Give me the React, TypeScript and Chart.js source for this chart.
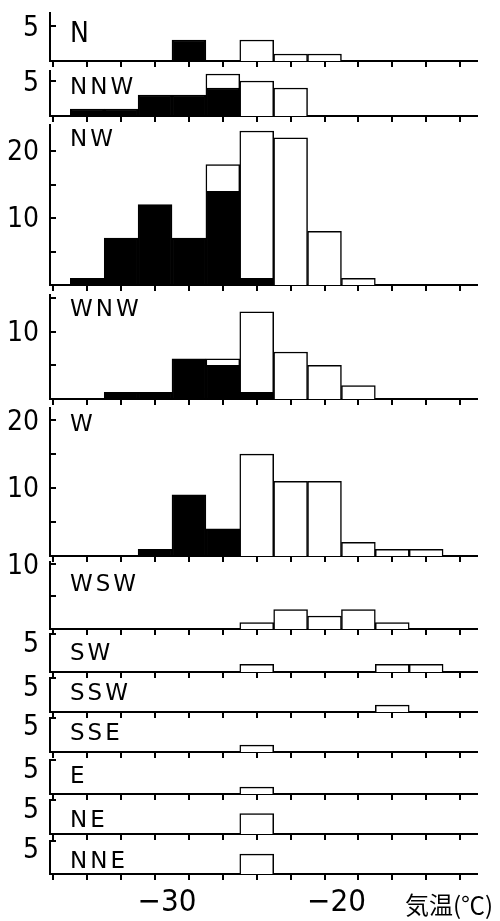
import React, { useEffect, useRef } from 'react';
import { Chart, registerables } from 'chart.js';

Chart.register(...registerables);

// ---------- data ----------
const directions = ['N', 'NNW', 'NW', 'WNW', 'W', 'WSW', 'SW', 'SSW', 'SSE', 'E', 'NE', 'NNE'];
// temperature bins (°C), 2-degree classes, centres
const binCenters = [-35, -33, -31, -29, -27, -25, -23, -21, -19, -17, -15];
const xTickValues = [-36, -34, -32, -30, -28, -26, -24, -22, -20, -18, -16, -14];
const xTickLabels: Record<string, string> = { '-30': '−30', '-20': '−20' };
const xAxisTitle = '気温(℃)';

// black (filled) and white (open) counts per bin
const blackN = [0, 0, 0, 3, 0, 0, 0, 0, 0, 0, 0];
const whiteN = [0, 0, 0, 0, 0, 3, 1, 1, 0, 0, 0];
const blackNNW = [1, 1, 3, 3, 4, 0, 0, 0, 0, 0, 0];
const whiteNNW = [0, 0, 0, 0, 2, 5, 4, 0, 0, 0, 0];
const blackNW = [1, 7, 12, 7, 14, 1, 0, 0, 0, 0, 0];
const whiteNW = [0, 0, 0, 0, 4, 22, 22, 8, 1, 0, 0];
const blackWNW = [0, 1, 1, 6, 5, 1, 0, 0, 0, 0, 0];
const whiteWNW = [0, 0, 0, 0, 1, 12, 7, 5, 2, 0, 0];
const blackW = [0, 0, 1, 9, 4, 0, 0, 0, 0, 0, 0];
const whiteW = [0, 0, 0, 0, 0, 15, 11, 11, 2, 1, 1];
const blackWSW = [0, 0, 0, 0, 0, 0, 0, 0, 0, 0, 0];
const whiteWSW = [0, 0, 0, 0, 0, 1, 3, 2, 3, 1, 0];
const blackSW = [0, 0, 0, 0, 0, 0, 0, 0, 0, 0, 0];
const whiteSW = [0, 0, 0, 0, 0, 1, 0, 0, 0, 1, 1];
const blackSSW = [0, 0, 0, 0, 0, 0, 0, 0, 0, 0, 0];
const whiteSSW = [0, 0, 0, 0, 0, 0, 0, 0, 0, 1, 0];
const blackSSE = [0, 0, 0, 0, 0, 0, 0, 0, 0, 0, 0];
const whiteSSE = [0, 0, 0, 0, 0, 1, 0, 0, 0, 0, 0];
const blackE = [0, 0, 0, 0, 0, 0, 0, 0, 0, 0, 0];
const whiteE = [0, 0, 0, 0, 0, 1, 0, 0, 0, 0, 0];
const blackNE = [0, 0, 0, 0, 0, 0, 0, 0, 0, 0, 0];
const whiteNE = [0, 0, 0, 0, 0, 3, 0, 0, 0, 0, 0];
const blackNNE = [0, 0, 0, 0, 0, 0, 0, 0, 0, 0, 0];
const whiteNNE = [0, 0, 0, 0, 0, 3, 0, 0, 0, 0, 0];

const blackSeries = [blackN, blackNNW, blackNW, blackWNW, blackW, blackWSW, blackSW, blackSSW, blackSSE, blackE, blackNE, blackNNE];
const whiteSeries = [whiteN, whiteNNW, whiteNW, whiteWNW, whiteW, whiteWSW, whiteSW, whiteSSW, whiteSSE, whiteE, whiteNE, whiteNNE];

// y-axis ticks and labelled ticks per panel
const yTickSets = [[5], [5], [5, 10, 15, 20], [5, 10, 15], [5, 10, 15, 20], [5, 10], [5], [5], [5], [5], [5], [5]];
const yLabelSets = [[5], [5], [10, 20], [10], [10, 20], [10], [5], [5], [5], [5], [5], [5]];
const yMaxes = [6.86, 6.43, 23.9, 15.5, 21.8, 10.3, 5, 5, 5, 5, 5, 5];

// ---------- layout (pixels) ----------
const panelTop = [13, 71, 125, 295, 408, 562, 634, 678, 718, 760, 800, 841];
const panelBase = [61, 116, 285, 399, 556, 629, 672, 712, 752, 794, 834, 874];
const yLabelOffset = [3, 3, 2, 2, 2, 3, 11, 11, 10, 11, 11, 10];
const nameDy = [22, 17, 15, 15, 17, 23, 20, 16, 16, 17, 21, 21];
const PAD_TOP = 30;
const NARROW = "'Liberation Sans Narrow', 'DejaVu Sans Condensed', 'Liberation Sans', sans-serif";

const decorPlugin = {
  id: 'decor',
  afterDraw(chart: any, _args: any, opts: any) {
    const { ctx, chartArea, scales } = chart;
    ctx.save();
    ctx.strokeStyle = '#000';
    ctx.lineWidth = 2;
    scales.y.ticks.forEach((t: any) => {
      const py = Math.round(scales.y.getPixelForValue(t.value));
      ctx.beginPath();
      ctx.moveTo(chartArea.left, py);
      ctx.lineTo(chartArea.left + 6, py);
      ctx.stroke();
    });
    ctx.fillStyle = '#000';
    ctx.textBaseline = 'middle';
    ctx.textAlign = 'left';
    ctx.font = opts.big ? `28px ${NARROW}` : "23px 'DejaVu Sans', sans-serif";
    try { (ctx as any).letterSpacing = '3px'; } catch (e) {}
    ctx.fillText(opts.label, chartArea.left + 20, chartArea.top + opts.dy);
    if (opts.xTitle) {
      try { (ctx as any).letterSpacing = '0px'; } catch (e) {}
      ctx.font = "24px 'Noto Sans CJK JP', sans-serif";
      ctx.fillText(opts.xTitle, 405, opts.xTitleY);
    }
    ctx.restore();
  },
};

function Panel({ index }: { index: number }) {
  const ref = useRef<HTMLCanvasElement | null>(null);
  const isBottom = index === directions.length - 1;
  const top = panelTop[index];
  const base = panelBase[index];
  const xh = isBottom ? 921 - base : 8;
  const height = PAD_TOP + (base - top) + xh;
  const canvasTop = top - PAD_TOP;

  useEffect(() => {
    const canvas = ref.current;
    if (!canvas) return;
    const yTicks = yTickSets[index];
    const yLabels = yLabelSets[index];
    const chart = new Chart(canvas, {
      type: 'bar',
      data: {
        datasets: [
          {
            data: binCenters.map((x, i) => ({ x, y: blackSeries[index][i] })),
            backgroundColor: '#000',
            borderColor: '#000',
            borderWidth: 1.5,
          },
          {
            data: binCenters.map((x, i) => ({ x, y: whiteSeries[index][i] })),
            backgroundColor: '#fff',
            borderColor: '#000',
            borderWidth: 1.5,
          },
        ],
      } as any,
      options: {
        animation: false,
        responsive: false,
        events: [],
        layout: { padding: { top: PAD_TOP, left: 0, right: 23, bottom: 0 } },
        datasets: { bar: { barPercentage: 1, categoryPercentage: 1 } },
        plugins: {
          legend: { display: false },
          tooltip: { enabled: false },
          decor: {
            label: directions[index],
            dy: nameDy[index],
            big: index === 0,
            xTitle: isBottom ? xAxisTitle : null,
            xTitleY: 905 - canvasTop,
          },
        } as any,
        scales: {
          x: {
            type: 'linear',
            min: -37.2,
            max: -12,
            stacked: true,
            offset: false,
            afterBuildTicks: (s: any) => {
              s.ticks = xTickValues.map((v) => ({ value: v }));
            },
            afterFit: (s: any) => {
              s.height = xh;
              s.paddingLeft = 0;
              s.paddingRight = 0;
            },
            ticks: {
              display: isBottom,
              autoSkip: false,
              maxRotation: 0,
              padding: 4,
              labelOffset: -5,
              color: '#000',
              font: { family: NARROW, size: 31 },
              callback: (v: any) => xTickLabels[String(v)] ?? '',
            },
            grid: { display: true, drawOnChartArea: false, drawTicks: true, tickLength: 6, lineWidth: 2, color: '#000' },
            border: { display: true, color: '#000', width: 2 },
          },
          y: {
            type: 'linear',
            min: 0,
            max: yMaxes[index],
            stacked: true,
            afterBuildTicks: (s: any) => {
              s.ticks = yTicks.map((v) => ({ value: v }));
            },
            afterFit: (s: any) => {
              s.width = 50;
              s.paddingTop = 0;
              s.paddingBottom = 0;
            },
            ticks: {
              padding: 11,
              labelOffset: yLabelOffset[index],
              color: '#000',
              font: { family: NARROW, size: 28 },
              callback: (v: any) => (yLabels.includes(Number(v)) ? String(v) : ''),
            },
            grid: { display: false, drawTicks: false, tickLength: 0 },
            border: { display: true, color: '#000', width: 2 },
          },
        },
      } as any,
      plugins: [decorPlugin as any],
    });
    return () => chart.destroy();
  }, [index]);

  return (
    <canvas
      ref={ref}
      width={500}
      height={height}
      style={{ position: 'absolute', left: 0, top: canvasTop, width: 500, height, display: 'block' }}
    />
  );
}

export default function App() {
  return (
    <div style={{ position: 'absolute', left: 0, top: 0, width: 500, height: 921, background: '#fff' }}>
      {directions.map((d, i) => (
        <Panel key={d} index={i} />
      ))}
    </div>
  );
}
